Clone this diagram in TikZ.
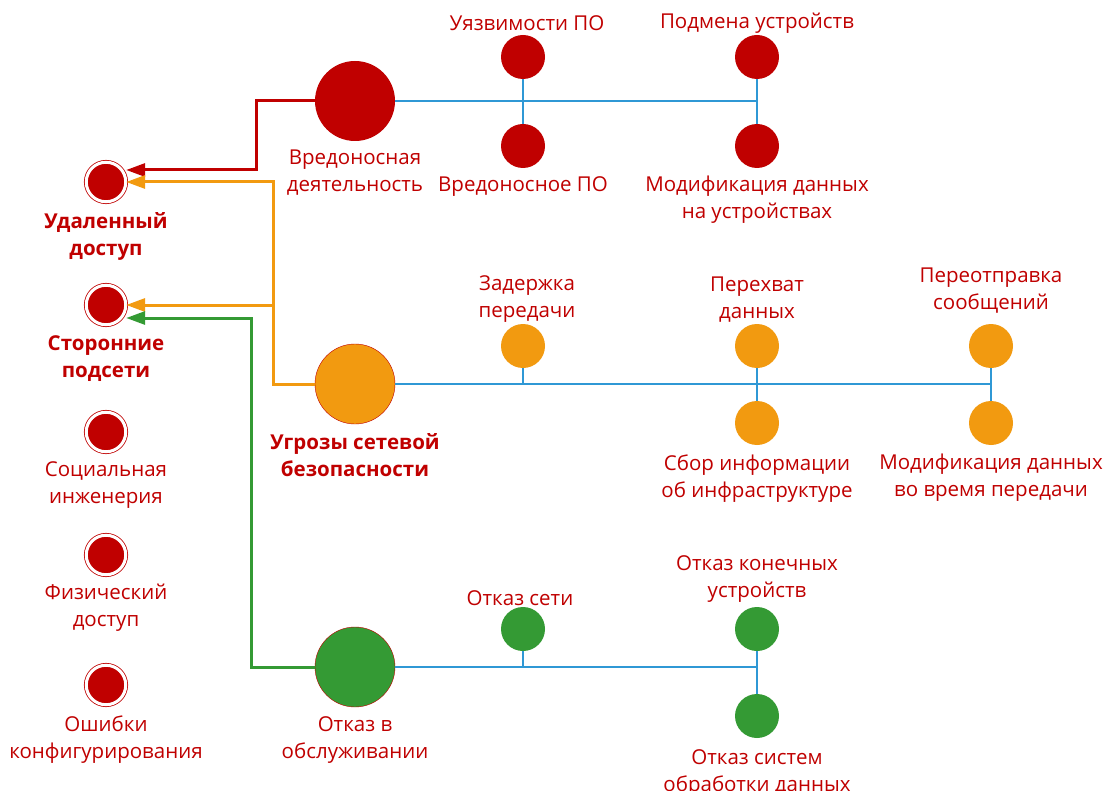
\documentclass[tikz,border=0pt]{standalone}
\usepackage{fontspec}
\setmainfont{Open Sans}
\usepackage{tikz}
\usetikzlibrary{arrows.meta,positioning}
\definecolor{thrred}{HTML}{C00000}
\definecolor{throrange}{HTML}{F29A10}
\definecolor{thrgreen}{HTML}{349A34}
\definecolor{thrblue}{HTML}{2F98D5}
\tikzset{
 thr main/.style={circle,minimum size=80pt,inner sep=0pt},
 thr item/.style={circle,minimum size=44pt,inner sep=0pt},
 thr source/.style={circle,fill=thrred,draw=thrred,double=white,
                    double distance=3pt,line width=0.8pt,
                    minimum size=39.5pt,inner sep=0pt},
 thr label/.style={text=thrred,align=center,inner sep=0pt,
                   font=\fontsize{20.5}{27}\selectfont},
 thr title/.style={thr label,font=\fontsize{20.5}{27}\selectfont\bfseries},
 thr tree/.style={thrblue,line width=1.4pt},
 thr link/.style={line width=3pt,-{Triangle[length=19pt,width=13pt]}}
}
\begin{document}
\begin{tikzpicture}[x=1pt,y=-1pt]
 \useasboundingbox[fill=white] (0,0) rectangle (1107,791);

 % sources of threats
 \node[thr source] (remote) at (106,182) {};
 \node[thr source] (subnet) at (106,305) {};
 \node[thr source] (social) at (106,432) {};
 \node[thr source] (phys) at (106,555) {};
 \node[thr source] (config) at (106,685) {};
 \node[thr title,below=10pt of remote] {Удаленный\\доступ};
 \node[thr title,below=10pt of subnet] {Сторонние\\подсети};
 \node[thr label,below=9pt of social] {Социальная\\инженерия};
 \node[thr label,below=9pt of phys] {Физический\\доступ};
 \node[thr label,below=10pt of config] {Ошибки\\конфигурирования};

 % threat groups
 \node[thr main,fill=thrred] (mal) at (355,101) {};
 \node[thr main,fill=throrange,draw=thrred,thin] (net) at (355,384) {};
 \node[thr main,fill=thrgreen,draw=thrred,thin] (dos) at (355,667) {};
 \node[thr label,below=8pt of mal] {Вредоносная\\деятельность};
 \node[thr title,below=9pt of net] {Угрозы сетевой\\безопасности};
 \node[thr label,below=9pt of dos] {Отказ в\\обслуживании};

 % malicious activity
 \node[thr item,fill=thrred] (vuln) at (523,57) {};
 \node[thr item,fill=thrred] (malware) at (523,146) {};
 \node[thr item,fill=thrred] (spoof) at (757,57) {};
 \node[thr item,fill=thrred] (moddev) at (757,146) {};
 \node[thr label,above=4pt of vuln,xshift=4pt] {Уязвимости ПО};
 \node[thr label,below=8pt of malware] {Вредоносное ПО};
 \node[thr label,above=1pt of spoof] {Подмена устройств};
 \node[thr label,below=8pt of moddev] {Модификация данных\\на устройствах};
 \draw[thr tree] (mal.east) -- (spoof.south |- mal.east);
 \draw[thr tree] (vuln.south) -- (malware.north);
 \draw[thr tree] (spoof.south) -- (moddev.north);

 % network security
 \node[thr item,fill=throrange] (delay) at (523,346) {};
 \node[thr item,fill=throrange] (intercept) at (757,346) {};
 \node[thr item,fill=throrange] (recon) at (757,423) {};
 \node[thr item,fill=throrange] (resend) at (991,346) {};
 \node[thr item,fill=throrange] (modtx) at (991,423) {};
 \node[thr label,above=1pt of delay,xshift=4pt] {Задержка\\передачи};
 \node[thr label,above=1pt of intercept] {Перехват\\данных};
 \node[thr label,above=10pt of resend] {Переотправка\\сообщений};
 \node[thr label,below=9pt of recon] {Сбор информации\\об инфраструктуре};
 \node[thr label,below=9pt of modtx] {Модификация данных\\во время передачи};
 \draw[thr tree] (net.east) -- (resend.south |- net.east);
 \draw[thr tree] (delay.south) -- (delay.south |- net.east);
 \draw[thr tree] (intercept.south) -- (recon.north);
 \draw[thr tree] (resend.south) -- (modtx.north);

 % denial of service
 \node[thr item,fill=thrgreen] (netfail) at (523,629) {};
 \node[thr item,fill=thrgreen] (endfail) at (757,629) {};
 \node[thr item,fill=thrgreen] (procfail) at (757,716) {};
 \node[thr label,above=1pt of netfail,xshift=-3pt] {Отказ сети};
 \node[thr label,above=4pt of endfail] {Отказ конечных\\устройств};
 \node[thr label,below=11pt of procfail] {Отказ систем\\обработки данных};
 \draw[thr tree] (dos.east) -- (endfail.south |- dos.east);
 \draw[thr tree] (netfail.south) -- (netfail.south |- dos.east);
 \draw[thr tree] (endfail.south) -- (procfail.north);

 % links to the sources
 \draw[thr link,thrred] (mal.west) -- ++(-58,0) |- ([yshift=12pt]remote.east);
 \draw[thr link,throrange] (net.west) -- ++(-41,0) coordinate (nj)
   |- (remote.east);
 \draw[thr link,throrange] (nj |- subnet.east) -- (subnet.east);
 \draw[thr link,thrgreen] (dos.west) -- ++(-63,0) |- ([yshift=-13pt]subnet.east);
\end{tikzpicture}
\end{document}
